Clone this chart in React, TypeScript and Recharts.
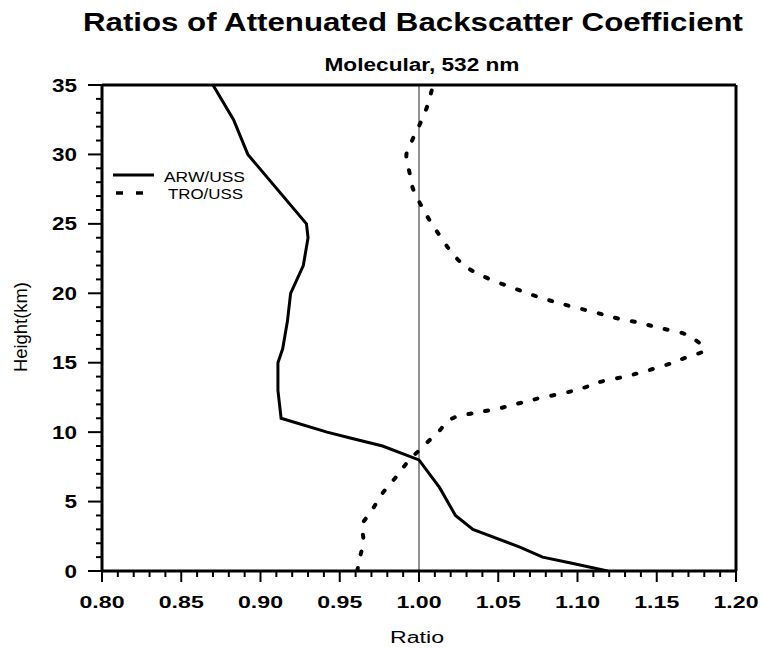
import React from 'react';
import { LineChart, Line, XAxis, YAxis, ReferenceLine } from 'recharts';

// ARW/USS ratio vs height (km)
const arwHeight = [0, 0.6, 1, 1.7, 3, 4, 6, 8, 9, 9.6, 10, 11, 12, 13, 15, 16, 18, 20, 22, 24, 25, 30, 32.5, 35];
const arwRatio = [1.119, 1.095, 1.078, 1.064, 1.034, 1.023, 1.013, 1.0, 0.977, 0.956, 0.942, 0.913, 0.912, 0.911, 0.911, 0.914, 0.917, 0.919, 0.927, 0.93, 0.929, 0.892, 0.883, 0.87];

// TRO/USS ratio vs height (km)
const troHeight = [0, 1.1, 2.2, 3.2, 4.3, 5.6, 6.7, 8.0, 8.9, 10.0, 11.1, 11.4, 11.7, 12.1, 12.5, 12.8, 13.2, 13.7, 14.0, 14.4, 14.8, 15.4, 15.9, 16.8, 17.1, 17.5, 17.9, 18.2, 18.6, 19.0, 19.4, 19.9, 20.4, 21.0, 21.8, 22.9, 24.0, 25.2, 26.4, 27.6, 28.7, 29.9, 31.1, 32.3, 33.4, 34.6, 35];
const troRatio = [0.961, 0.963, 0.965, 0.964, 0.97, 0.977, 0.985, 0.994, 1.002, 1.012, 1.023, 1.036, 1.05, 1.064, 1.078, 1.091, 1.104, 1.117, 1.13, 1.143, 1.155, 1.169, 1.18, 1.172, 1.167, 1.152, 1.138, 1.125, 1.112, 1.098, 1.085, 1.071, 1.059, 1.045, 1.031, 1.021, 1.014, 1.007, 1.001, 0.996, 0.994, 0.992, 0.996, 1.001, 1.005, 1.008, 1.009];

const xMajorLabels = ['0.80', '0.85', '0.90', '0.95', '1.00', '1.05', '1.10', '1.15', '1.20'];
const yMajorLabels = ['0', '5', '10', '15', '20', '25', '30', '35'];

const arwData = arwHeight.map((h, i) => ({ h, v: arwRatio[i] }));
const troData = troHeight.map((h, i) => ({ h, v: troRatio[i] }));

// minor ticks every 0.01 / 1 km
const xTicks = Array.from({ length: 41 }, (_, i) => (80 + i) / 100);
const yTicks = Array.from({ length: 36 }, (_, i) => i);

const FONT = '"Liberation Sans", Arial, Helvetica, sans-serif';

const XTick = (props: any) => {
    const { x, y, payload } = props;
    const hundredths = Math.round(payload.value * 100);
    const major = hundredths % 5 === 0;
    const label = major ? xMajorLabels[(hundredths - 80) / 5] : null;
    return (
        <g>
            <line x1={x} x2={x} y1={y} y2={y + (major ? 11 : 6)} stroke="#000" strokeWidth={2} />
            {label && (
                <text
                    x={x}
                    y={y + 37}
                    textAnchor="middle"
                    fontFamily={FONT}
                    fontWeight="bold"
                    fontSize={17}
                    textLength={45}
                    lengthAdjust="spacingAndGlyphs"
                    fill="#000"
                >
                    {label}
                </text>
            )}
        </g>
    );
};

const YTick = (props: any) => {
    const { x, y, payload } = props;
    const major = payload.value % 5 === 0;
    const label = major ? yMajorLabels[payload.value / 5] : null;
    return (
        <g>
            <line x1={x} x2={x - (major ? 14 : 6)} y1={y} y2={y} stroke="#000" strokeWidth={2} />
            {label && (
                <text
                    x={x - 25}
                    y={y + 6.5}
                    textAnchor="end"
                    fontFamily={FONT}
                    fontWeight="bold"
                    fontSize={18}
                    textLength={12.5 * label.length}
                    lengthAdjust="spacingAndGlyphs"
                    fill="#000"
                >
                    {label}
                </text>
            )}
        </g>
    );
};

const App: React.FC = () => {
    return (
        <div style={{ position: 'absolute', left: 0, top: 0, width: 761, height: 648, background: '#fff' }}>
            <div style={{ position: 'absolute', left: 0, top: 0 }}>
                <LineChart
                    width={761}
                    height={648}
                    layout="vertical"
                    margin={{ top: 85, right: 25, bottom: 37, left: 0 }}
                >
                    <XAxis
                        type="number"
                        dataKey="v"
                        domain={[0.8, 1.2]}
                        ticks={xTicks}
                        interval={0}
                        tickSize={0}
                        tickMargin={0}
                        tick={<XTick />}
                        tickLine={false}
                        axisLine={{ stroke: '#000', strokeWidth: 3 }}
                        height={40}
                        allowDataOverflow
                    />
                    <YAxis
                        type="number"
                        dataKey="h"
                        domain={[0, 35]}
                        ticks={yTicks}
                        interval={0}
                        reversed
                        tickSize={0}
                        tickMargin={0}
                        tick={<YTick />}
                        tickLine={false}
                        axisLine={{ stroke: '#000', strokeWidth: 3 }}
                        width={102}
                        allowDataOverflow
                    />
                    <ReferenceLine x={1.0} stroke="#222" strokeWidth={1} />
                    <ReferenceLine y={35} stroke="#000" strokeWidth={3} />
                    <ReferenceLine x={1.2} stroke="#000" strokeWidth={3} />
                    <Line
                        data={arwData}
                        dataKey="v"
                        type="linear"
                        stroke="#000"
                        strokeWidth={3}
                        dot={false}
                        activeDot={false}
                        isAnimationActive={false}
                    />
                    <Line
                        data={troData}
                        dataKey="v"
                        type="monotone"
                        stroke="#000"
                        strokeWidth={4}
                        strokeDasharray="3 14"
                        strokeLinecap="round"
                        dot={false}
                        activeDot={false}
                        isAnimationActive={false}
                    />
                </LineChart>
            </div>

            {/* Titles, axis titles and legend */}
            <svg style={{ position: 'absolute', left: 0, top: 0 }} width={761} height={648} pointerEvents="none">
                <text x={413} y={31} textAnchor="middle" fontFamily={FONT} fontWeight="bold" fontSize={25} textLength={660} lengthAdjust="spacingAndGlyphs" fill="#000">
                    Ratios of Attenuated Backscatter Coefficient
                </text>
                <text x={422} y={71} textAnchor="middle" fontFamily={FONT} fontWeight="bold" fontSize={18} textLength={195} lengthAdjust="spacingAndGlyphs" fill="#000">
                    Molecular, 532 nm
                </text>
                <text x={417} y={643} textAnchor="middle" fontFamily={FONT} fontSize={16} textLength={54} lengthAdjust="spacingAndGlyphs" fill="#000">
                    Ratio
                </text>
                <text
                    x={0}
                    y={0}
                    transform="translate(27 327) rotate(-90)"
                    textAnchor="middle"
                    fontFamily={FONT}
                    fontSize={19}
                    textLength={90}
                    lengthAdjust="spacingAndGlyphs"
                    fill="#000"
                >
                    Height(km)
                </text>

                <line x1={113} x2={154} y1={175} y2={175} stroke="#000" strokeWidth={3} />
                <text x={164} y={182} fontFamily={FONT} fontSize={14} textLength={81} lengthAdjust="spacingAndGlyphs" fill="#000">ARW/USS</text>
                <line x1={116} x2={123} y1={193} y2={193} stroke="#000" strokeWidth={3.5} />
                <line x1={136} x2={143} y1={193} y2={193} stroke="#000" strokeWidth={3.5} />
                <text x={168} y={199} fontFamily={FONT} fontSize={14} textLength={75} lengthAdjust="spacingAndGlyphs" fill="#000">TRO/USS</text>
            </svg>
        </div>
    );
};

export default App;
